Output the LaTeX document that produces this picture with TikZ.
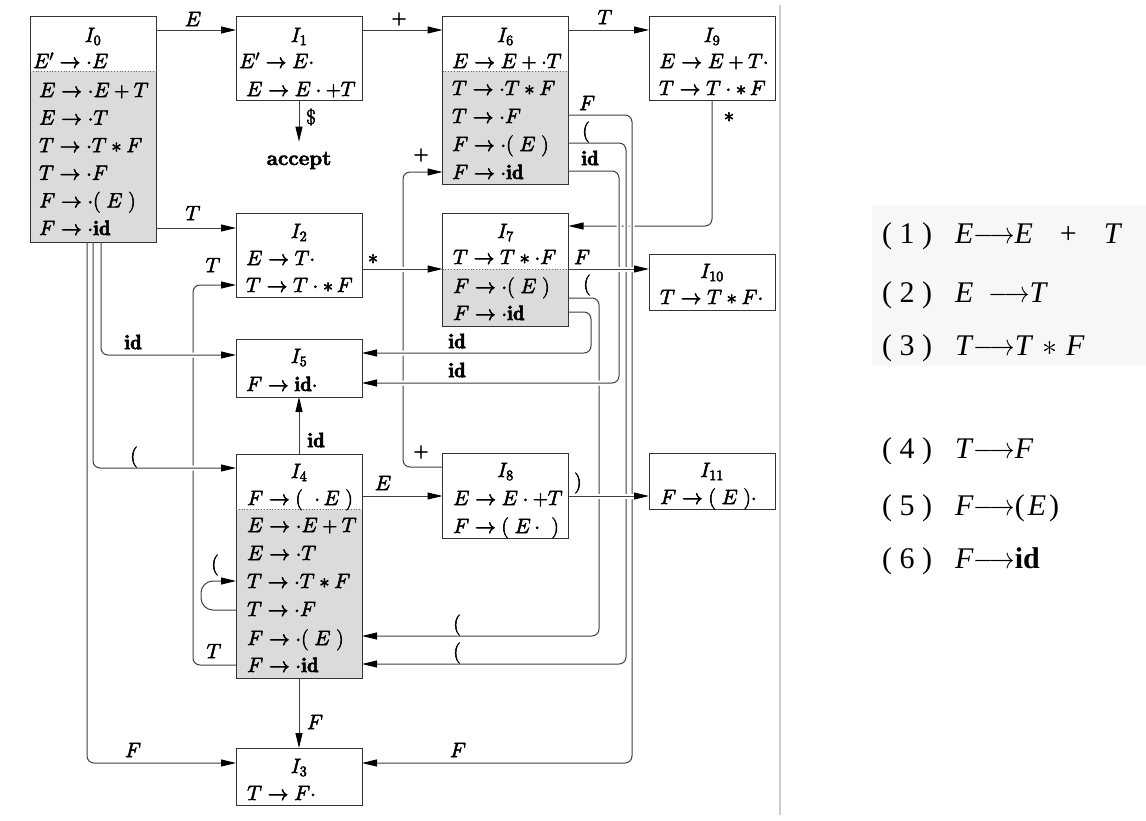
\RequirePackage{fix-cm}
\documentclass[tikz,border=0pt]{standalone}
\usepackage{fontspec}
\usepackage{graphicx}
\usetikzlibrary{arrows.meta}
\newfontfamily\tnr{Liberation Serif}
\newcommand\heavytext{\special{pdf:literal direct 2 Tr 0.55 w}}
\newcommand\fs{\fontsize{20.74}{25}\selectfont\heavytext}
\newcommand\pfs{\tnr\fontsize{30}{36}\selectfont}
\newcommand\prodarrow{\scalebox{0.85}[1]{$\longrightarrow$}}
\pgfdeclarelayer{bg}
\pgfsetlayers{bg,main}
\begin{document}
\begin{tikzpicture}[x=1pt,y=-1pt,
  box/.style={draw=black!80, line width=0.9pt, inner sep=0pt, outer sep=0pt, minimum width=126pt},
  shadefill/.style={fill=black!14},
  divider/.style={draw=black!60, line width=0.8pt, dotted},
  rw/.style={font=\fs, inner sep=0pt, anchor=base west},
  tl/.style={font=\fs, inner sep=0pt, anchor=base},
  lb/.style={font=\fs, inner sep=0pt},
  conn/.style={draw=black!75, line width=1pt, rounded corners=7pt, -{Triangle[length=15pt,width=7pt,color=black]}},
  halo/.style={preaction={draw=white, line width=5pt, -, shorten <=4pt, shorten >=6pt}},
  prn/.style={font=\pfs, inner sep=0pt, anchor=base west},
]
\useasboundingbox (0,0) rectangle (1146,820);
\begin{pgfonlayer}{bg}
  \fill[white] (0,0) rectangle (1146,820);
  \fill[black!3] (872,205) rectangle (1146,365);
\end{pgfonlayer}
\draw[black!20, line width=1.5pt] (780,5) -- (780,815);

% ---------- boxes ----------
\node[box, minimum height=226pt] (I0) at (93,129) {};
\node[box, minimum height=84pt] (I1) at (299,58) {};
\node[box, minimum height=168pt] (I6) at (505.5,100) {};
\node[box, minimum height=84pt] (I9) at (712,58) {};
\node[box, minimum height=84pt] (I2) at (299,255) {};
\node[box, minimum height=113pt] (I7) at (505.5,269.5) {};
\node[box, minimum height=56pt] (I10) at (712,282) {};
\node[box, minimum height=58pt] (I5) at (299,368) {};
\node[box, minimum height=224pt] (I4) at (299,566) {};
\node[box, minimum height=85pt] (I8) at (505.5,495.5) {};
\node[box, minimum height=56pt] (I11) at (712,481) {};
\node[box, minimum height=57pt] (I3) at (299,776.5) {};

\begin{pgfonlayer}{bg}
  \fill[shadefill] (I0.west |- 0,71) rectangle (I0.south east);
  \fill[shadefill] (I6.west |- 0,71) rectangle (I6.south east);
  \fill[shadefill] (I7.west |- 0,269) rectangle (I7.south east);
  \fill[shadefill] (I4.west |- 0,509) rectangle (I4.south east);
\end{pgfonlayer}
\draw[divider] (I0.west |- 0,71) -- (I0.east |- 0,71);
\draw[divider] (I6.west |- 0,71) -- (I6.east |- 0,71);
\draw[divider] (I7.west |- 0,269) -- (I7.east |- 0,269);
\draw[divider] (I4.west |- 0,509) -- (I4.east |- 0,509);

% ---------- box texts ----------
\node[tl] (t0) at (93,42) {$I_0$};
\node[rw] (t0a) at (33,68) {$E'\rightarrow{\cdot}E$};
\node[rw] (t0b) at (39,97) {$E\rightarrow{\cdot}E+T$};
\node[rw] (t0c) at (39,124.6) {$E\rightarrow{\cdot}T$};
\node[rw] (t0d) at (39,152.2) {$T\rightarrow{\cdot}T*F$};
\node[rw] (t0e) at (39,179.8) {$T\rightarrow{\cdot}F$};
\node[rw] (t0f) at (39,207.4) {$F\rightarrow{\cdot}(\;E\;)$};
\node[rw] (t0g) at (39,235) {$F\rightarrow{\cdot}\mathbf{id}$};

\node[tl] (t1) at (299,42) {$I_1$};
\node[rw] (t1a) at (239,68) {$E'\rightarrow E{\cdot}$};
\node[rw] (t1b) at (246,96) {$E\rightarrow E\cdot{+}T$};

\node[tl] (t6) at (505.5,42) {$I_6$};
\node[rw] (t6a) at (452,68) {$E\rightarrow E+{\cdot}T$};
\node[rw] (t6b) at (452,95) {$T\rightarrow{\cdot}T*F$};
\node[rw] (t6c) at (452,123) {$T\rightarrow{\cdot}F$};
\node[rw] (t6d) at (452,151) {$F\rightarrow{\cdot}(\;E\;)$};
\node[rw] (t6e) at (452,179) {$F\rightarrow{\cdot}\mathbf{id}$};

\node[tl] (t9) at (712,42) {$I_9$};
\node[rw] (t9a) at (659,68) {$E\rightarrow E+T{\cdot}$};
\node[rw] (t9b) at (659,95) {$T\rightarrow T\cdot{*}\,F$};

\node[tl] (t2) at (299,238) {$I_2$};
\node[rw] (t2a) at (246,265) {$E\rightarrow T{\cdot}$};
\node[rw] (t2b) at (246,292) {$T\rightarrow T\cdot{*}\,F$};

\node[tl] (t7) at (505.5,238) {$I_7$};
\node[rw] (t7a) at (453,264) {$T\rightarrow T*{\cdot}F$};
\node[rw] (t7b) at (453,293) {$F\rightarrow{\cdot}(\;E\;)$};
\node[rw] (t7c) at (453,320) {$F\rightarrow{\cdot}\mathbf{id}$};

\node[tl] (t10) at (712,278) {$I_{10}$};
\node[rw] (t10a) at (660,304) {$T\rightarrow T*F{\cdot}$};

\node[tl] (t5) at (299,363) {$I_5$};
\node[rw] (t5a) at (246,391) {$F\rightarrow\mathbf{id}{\cdot}$};

\node[tl] (t4) at (299,478) {$I_4$};
\node[rw] (t4a) at (247,505) {$F\rightarrow(\;\;{\cdot}\,E\;)$};
\node[rw] (t4b) at (247,532) {$E\rightarrow{\cdot}E+T$};
\node[rw] (t4c) at (247,560) {$E\rightarrow{\cdot}T$};
\node[rw] (t4d) at (247,588) {$T\rightarrow{\cdot}T*F$};
\node[rw] (t4e) at (247,616) {$T\rightarrow{\cdot}F$};
\node[rw] (t4f) at (247,645) {$F\rightarrow{\cdot}(\;E\;)$};
\node[rw] (t4g) at (247,672) {$F\rightarrow{\cdot}\mathbf{id}$};

\node[tl] (t8) at (505.5,477) {$I_8$};
\node[rw] (t8a) at (453,505) {$E\rightarrow E\cdot{+}T$};
\node[rw] (t8b) at (453,533) {$F\rightarrow(\;E\,{\cdot}\;\;)$};

\node[tl] (t11) at (712,477) {$I_{11}$};
\node[rw] (t11a) at (660,504) {$F\rightarrow(\;E\;){\cdot}$};

\node[tl] (t3) at (299,773) {$I_3$};
\node[rw] (t3a) at (247,800) {$T\rightarrow F{\cdot}$};

\node[font=\fs\bfseries, anchor=base, inner xsep=0pt, inner ysep=10pt] (acc) at (299,165) {accept};

% ---------- connectors (order matters for crossings) ----------
\draw[conn] (I9.south) -- (I9.south |- 0,226) -- (I7.east |- 0,226);
\draw[conn] (I8.west |- 0,467) -- (403,467) -- (403,172) -- (I6.west |- 0,172);
\draw[conn] (I4.west |- 0,665) -- (193,665) -- (193,285) -- (I2.west |- 0,285);

\draw[conn,halo] (I7.east |- 0,298) -- (599,298) -- (599,636) -- (I4.east |- 0,636);
\draw[conn,halo] (I7.east |- 0,312) -- (591,312) -- (591,353) -- (I5.east |- 0,353);

\draw[conn,halo] (I6.east |- 0,115) -- (632,115) -- (632,763) -- (I3.east |- 0,763);
\draw[conn,halo] (I6.east |- 0,143) -- (626,143) -- (626,664) -- (I4.east |- 0,664);
\draw[conn,halo] (I6.east |- 0,171) -- (619,171) -- (619,383) -- (I5.east |- 0,383);

\draw[conn,halo] (101,0 |- I0.south) -- (101,355) -- (I5.west |- 0,355);
\draw[conn,halo] (93,0 |- I0.south) -- (93,468) -- (I4.west |- 0,468);
\draw[conn,halo] (87,0 |- I0.south) -- (87,763) -- (I3.west |- 0,763);

\draw[conn,halo] (I2.east |- 0,269) -- (I7.west |- 0,269);
\draw[conn,halo] (I7.east |- 0,269) -- (I10.west |- 0,269);
\draw[conn,halo] (I8.east |- 0,496) -- (I11.west |- 0,496);

\draw[conn] (I0.east |- 0,30) -- (I1.west |- 0,30);
\draw[conn] (I1.east |- 0,30) -- (I6.west |- 0,30);
\draw[conn] (I6.east |- 0,30) -- (I9.west |- 0,30);
\draw[conn] (I1.south) -- (acc.north);
\draw[conn] (I0.east |- 0,228) -- (I2.west |- 0,228);
\draw[conn, rounded corners=12pt] (I4.west |- 0,610) -- (201,610) -- (201,581) -- (I4.west |- 0,581);
\draw[conn] (I4.east |- 0,496) -- (I8.west |- 0,496);
\draw[conn] (I4.north) -- (I5.south);
\draw[conn] (I4.south) -- (I3.north);

% ---------- edge labels ----------
\node[lb] (lE1) at (193,19) {$E$};
\node[lb] (lP1) at (399,19) {$+$};
\node[lb] (lT1) at (605,17) {$T$};
\node[lb] (lD) at (311,117) {\$};
\node[lb] (lT2) at (193,213) {$T$};
\node[lb] (lS1) at (373,259) {$*$};
\node[lb] (lS2) at (729,117) {$*$};
\node[lb] (lF1) at (582,257) {$F$};
\node[lb] (lid1) at (133,342) {$\mathbf{id}$};
\node[lb] (lpar1) at (134,457) {$($};
\node[lb] (lF2) at (133,750) {$F$};
\node[lb] (lT3) at (213,265) {$T$};
\node[lb] (lT4) at (214,651) {$T$};
\node[lb] (lpar2) at (215,565) {$($};
\node[lb] (lid2) at (316,440) {$\mathbf{id}$};
\node[lb] (lF3) at (315,722) {$F$};
\node[lb] (lE2) at (383,483) {$E$};
\node[lb] (lP2) at (421,452) {$+$};
\node[lb] (lP3) at (421,155) {$+$};
\node[lb] (lrp) at (578,483) {$)$};
\node[lb] (lF4) at (587,103) {$F$};
\node[lb] (lpar3) at (586,132) {$($};
\node[lb] (lid3) at (590,158) {$\mathbf{id}$};
\node[lb] (lpar4) at (587,285) {$($};
\node[lb] (lid4) at (457,341) {$\mathbf{id}$};
\node[lb] (lid5) at (457,370) {$\mathbf{id}$};
\node[lb] (lpar5) at (457,625) {$($};
\node[lb] (lpar6) at (457,653) {$($};
\node[lb] (lF5) at (458,750) {$F$};

% ---------- productions ----------
\node[prn] (n1) at (882,243) {(\hspace{0.25em}1\hspace{0.25em})};
\node[prn] (f1) at (955,243) {\textit{E}\prodarrow\textit{E}\hspace{0.9em}+\hspace{0.9em}\textit{T}};
\node[prn] (n2) at (882,302) {(\hspace{0.25em}2\hspace{0.25em})};
\node[prn] (f2) at (955,302) {\textit{E}\hspace{0.5em}\prodarrow\textit{T}};
\node[prn] (n3) at (882,355) {(\hspace{0.25em}3\hspace{0.25em})};
\node[prn] (f3) at (955,355) {\textit{T}\prodarrow\textit{T}\hspace{0.3em}$*$\hspace{0.3em}\textit{F}};
\node[prn] (n4) at (882,458) {(\hspace{0.25em}4\hspace{0.25em})};
\node[prn] (f4) at (955,458) {\textit{T}\prodarrow\textit{F}};
\node[prn] (n5) at (882,515) {(\hspace{0.25em}5\hspace{0.25em})};
\node[prn] (f5) at (955,515) {\textit{F}\prodarrow(\hspace{0.1em}\textit{E}\hspace{0.1em})};
\node[prn] (n6) at (882,568) {(\hspace{0.25em}6\hspace{0.25em})};
\node[prn] (f6) at (955,568) {\textit{F}\prodarrow\textbf{id}};
\end{tikzpicture}
\end{document}
